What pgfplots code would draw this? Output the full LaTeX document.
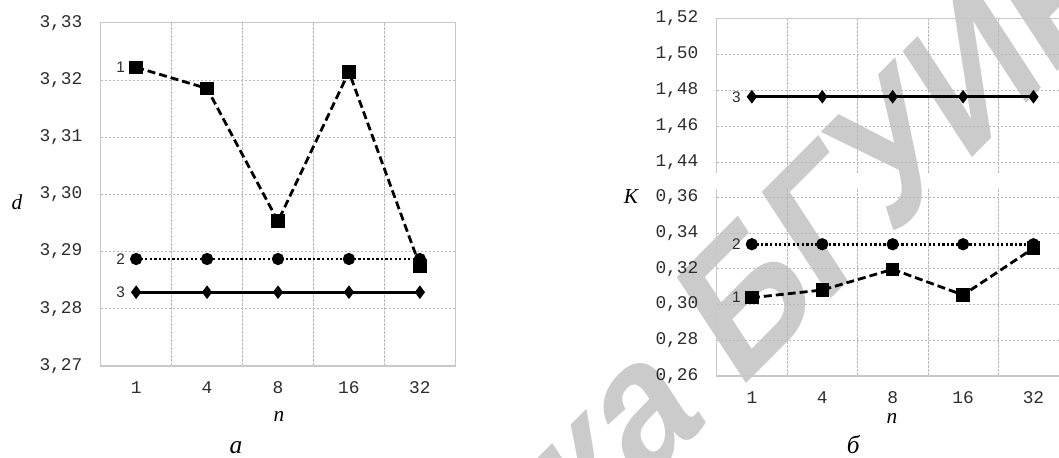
\documentclass[border=0pt]{standalone}
\usepackage{pgfplots}
\pgfplotsset{compat=1.18}
\usepackage{fontspec}
\setmainfont{Liberation Serif}
\newfontfamily\monof{Liberation Mono}
\newfontfamily\sansf{Liberation Sans}
\definecolor{gridc}{RGB}{185,185,185}
\definecolor{framec}{RGB}{200,200,200}
\definecolor{tickc}{RGB}{45,45,45}
\definecolor{wmc}{RGB}{203,203,203}
\pgfplotsset{
  mybase/.style={
    scale only axis,
    anchor=south west,
    xmin=-0.5, xmax=4.5,
    xtick={0,1,2,3,4},
    minor xtick={0.5,1.5,2.5,3.5},
    xminorgrids=true, ymajorgrids=true, xmajorgrids=false,
    major tick length=0pt, minor tick length=0pt,
    grid style={draw=gridc, line width=0.5pt, dash pattern=on 2pt off 1pt},
    minor grid style={draw=gridc, line width=0.5pt, dash pattern=on 2pt off 1pt},
    axis line style={draw=none},
    tick label style={font=\monof\fontsize{13.4}{15}\selectfont, text=tickc},
    yticklabel style={inner sep=0pt, anchor=east, xshift=-13.5pt},
    xticklabel style={inner sep=0pt, anchor=center, yshift=-16.5pt},
    clip=false,
  },
  s1/.style={black, line width=2.1pt, dash pattern=on 6pt off 3pt, mark=square*, mark size=4pt, mark options={solid}},
  s2/.style={black, line width=1.9pt, dash pattern=on 1.7pt off 1.7pt, mark=*, mark size=3.6pt, mark options={solid}},
  s3/.style={black, line width=2.2pt, mark=diamond*, mark size=3.3pt, mark options={solid}},
}
\newcommand{\slab}[2]{\node[anchor=east, inner sep=0pt, font=\sansf\fontsize{11.5}{13}\selectfont, text=tickc] at (axis cs:0,#1) [xshift=-8.3pt] {#2};}
\begin{document}
\begin{tikzpicture}
\path[use as bounding box] (0,0) rectangle (794.25pt,342.75pt);
% watermark
\begin{scope}
\clip (0,0) rectangle (794.25pt,342.75pt);
\coordinate (wm) at (554pt,49pt);
\node[yscale=1.24, rotate=39, xscale=0.95, anchor=base east, inner sep=0pt, text=wmc, font=\sansf\bfseries\fontsize{120}{125}\selectfont] at (wm) {Библиотека\ \hspace{70pt}};
\node[yscale=1.24, rotate=39, xscale=0.95, anchor=base west, inner sep=0pt, text=wmc, font=\sansf\bfseries\fontsize{120}{125}\selectfont] at (wm) {БГУИР};
\end{scope}
% left panel
\begin{axis}[mybase,
  at={(75.5pt,68.25pt)}, width=266pt, height=257.5pt,
  ymin=3.27, ymax=3.33,
  ytick={3.27,3.28,3.29,3.30,3.31,3.32,3.33},
  yticklabels={{3,27},{3,28},{3,29},{3,30},{3,31},{3,32},{3,33}},
  xticklabels={1,4,8,16,32},
]
\draw[framec, line width=0.8pt] (rel axis cs:0,0) rectangle (rel axis cs:1,1);
\addplot[s3] coordinates {(0,3.2829) (1,3.2829) (2,3.2829) (3,3.2829) (4,3.2829)};
\addplot[s2] coordinates {(0,3.2887) (1,3.2887) (2,3.2887) (3,3.2887) (4,3.2887)};
\addplot[s1] coordinates {(0,3.3222) (1,3.3185) (2,3.2953) (3,3.3214) (4,3.2875)};
\slab{3.3222}{1}
\slab{3.2887}{2}
\slab{3.2829}{3}
\end{axis}
% right top panel
\begin{axis}[mybase,
  at={(537.5pt,213pt)}, width=264pt, height=116pt,
  ymin=1.434, ymax=1.52,
  ytick={1.44,1.46,1.48,1.50,1.52},
  yticklabels={{1,44},{1,46},{1,48},{1,50},{1,52}},
  xticklabels={},
]
\draw[framec, line width=0.8pt] (rel axis cs:0,0) -- (rel axis cs:0,1) -- (rel axis cs:1,1) -- (rel axis cs:1,0);
\addplot[s3] coordinates {(0,1.4764) (1,1.4764) (2,1.4764) (3,1.4764) (4,1.4764)};
\slab{1.4764}{3}
\end{axis}
% right bottom panel
\begin{axis}[mybase,
  at={(537.5pt,60.75pt)}, width=264pt, height=140.25pt,
  ymin=0.26, ymax=0.3646,
  ytick={0.26,0.28,0.30,0.32,0.34,0.36},
  yticklabels={{0,26},{0,28},{0,30},{0,32},{0,34},{0,36}},
  xticklabels={1,4,8,16,32},
]
\draw[framec, line width=0.8pt] (rel axis cs:0,1) -- (rel axis cs:0,0) -- (rel axis cs:1,0) -- (rel axis cs:1,1);
\addplot[s2] coordinates {(0,0.3337) (1,0.3337) (2,0.3337) (3,0.3337) (4,0.3337)};
\addplot[s1] coordinates {(0,0.3038) (1,0.3081) (2,0.3197) (3,0.3053) (4,0.3315)};
\slab{0.3337}{2}
\slab{0.3038}{1}
\end{axis}
% axis labels
\node[font=\itshape\fontsize{16}{18}\selectfont] at (12.75pt,191pt) {\textit{d}};
\node[font=\itshape\fontsize{16}{18}\selectfont] at (473.25pt,195pt) {\textit{K}};
\node[font=\itshape\fontsize{16}{18}\selectfont] at (209.25pt,30.5pt) {\textit{n}};
\node[font=\itshape\fontsize{16}{18}\selectfont] at (669pt,29pt) {\textit{n}};
\node[font=\itshape\fontsize{19}{21}\selectfont, anchor=base] at (177pt,3pt) {а};
\node[font=\itshape\fontsize{19}{21}\selectfont, anchor=base] at (640pt,3pt) {б};
\end{tikzpicture}
\end{document}
